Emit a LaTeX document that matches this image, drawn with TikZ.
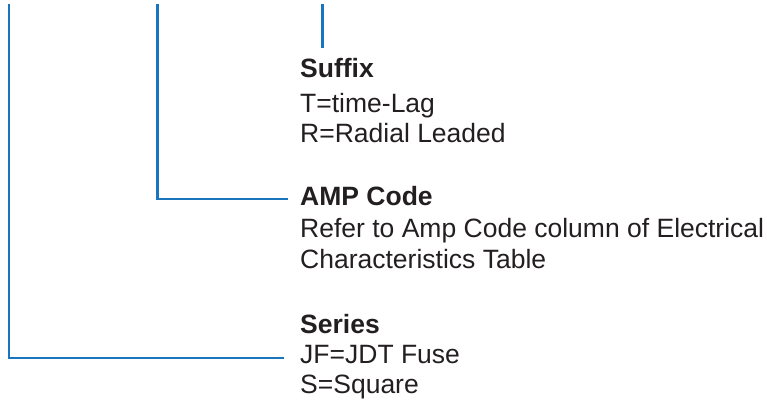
\documentclass[tikz,border=0pt]{standalone}
\usepackage{fontspec}
\setmainfont{Liberation Sans}
\definecolor{leadblue}{HTML}{1B75BC}
\definecolor{ink}{HTML}{231F20}
\begin{document}
\begin{tikzpicture}[x=1pt,y=-1pt,
    lead/.style={leadblue,line width=2.6pt},
    head/.style={anchor=base west,inner sep=0pt,text=ink,
      font=\fontsize{26.5}{31}\selectfont\bfseries},
    body/.style={anchor=base west,inner sep=0pt,text=ink,
      font=\fontsize{26.5}{31}\selectfont}]
    \useasboundingbox (0,0) rectangle (767,405);
    % suffix block
    \node[head] (suffix) at (300,77) {Suffix};
    \node[body] (suffixa) at (300,112) {T=time-Lag};
    \node[body] (suffixb) at (300,142) {R=Radial Leaded};
    % amp code block
    \node[head] (amp) at (300,205) {AMP Code};
    \node[body] (ampa) at (300,237) {Refer to Amp Code column of Electrical};
    \node[body] (ampb) at (300,268) {Characteristics Table};
    % series block
    \node[head] (series) at (300,333) {Series};
    \node[body] (seriesa) at (300,363) {JF=JDT Fuse};
    \node[body] (seriesb) at (300,393) {S=Square};
    % leads
    \coordinate (top1) at (9,4);
    \coordinate (top2) at (157.5,4);
    \coordinate (top3) at (322.5,4);
    \coordinate (end1) at (284,358);
    \coordinate (end2) at (288,199);
    \coordinate (end3) at (322.5,48);
    \draw[lead] (top1) |- (end1);
    \draw[lead] (top2) |- (end2);
    \draw[lead] (top3) -- (end3);
\end{tikzpicture}
\end{document}
